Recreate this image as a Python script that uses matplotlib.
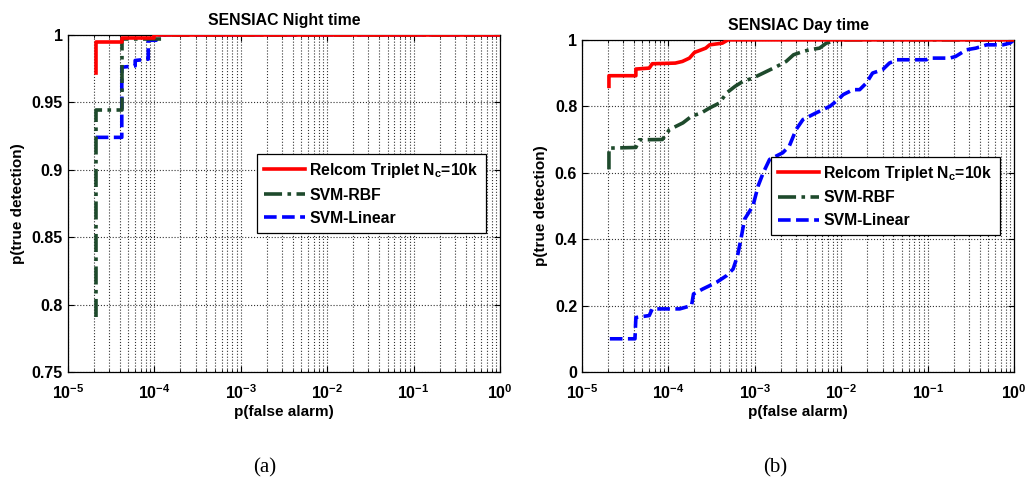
import numpy as np
import matplotlib
matplotlib.use("Agg")
import matplotlib.pyplot as plt

plt.rcParams['font.family'] = ['Liberation Sans', 'DejaVu Sans']
plt.rcParams['font.weight'] = 'bold'
plt.rcParams['mathtext.fontset'] = 'custom'
plt.rcParams['mathtext.rm'] = 'Liberation Sans:bold'
plt.rcParams['mathtext.default'] = 'rm'

legend_labels = ['Relcom Triplet N$_{c}$=10k', 'SVM-RBF', 'SVM-Linear']

# --- (a) night time ROC vertices ---
night_relcom_fa = [2.1e-5, 2.1e-5, 4.2e-5, 4.2e-5, 1.0e-4, 1.0e-4, 1.0]
night_relcom_pd = [0.972, 0.995, 0.995, 0.998, 0.998, 1.0, 1.0]

night_rbf_fa = [2.1e-5, 2.1e-5, 4.2e-5, 4.2e-5, 1.25e-4, 1.25e-4, 1.0]
night_rbf_pd = [0.791, 0.944, 0.944, 0.997, 0.997, 1.0, 1.0]

night_lin_fa = [2.1e-5, 2.1e-5, 4.2e-5, 4.2e-5, 6.0e-5, 6.0e-5, 8.5e-5, 8.5e-5, 1.05e-4, 1.05e-4, 1.0]
night_lin_pd = [0.924, 0.924, 0.924, 0.976, 0.977, 0.981, 0.982, 0.996, 0.996, 1.0, 1.0]

# --- (b) day time ROC vertices ---
day_relcom_fa = [2.05e-5, 2.05e-5, 4.2e-5, 4.2e-5, 6.0e-5, 6.5e-5, 1.2e-4, 1.45e-4,
                 1.75e-4, 2.0e-4, 2.7e-4, 3.0e-4, 4.2e-4, 4.9e-4, 1.0]
day_relcom_pd = [0.86, 0.892, 0.892, 0.912, 0.915, 0.928, 0.93, 0.935,
                 0.945, 0.962, 0.975, 0.985, 0.99, 1.0, 1.0]

day_rbf_fa = [2.05e-5, 2.05e-5, 4.2e-5, 4.6e-5, 8.5e-5, 1.03e-4, 1.47e-4, 1.85e-4,
              2.4e-4, 3.0e-4, 3.9e-4, 4.7e-4, 5.9e-4, 7.3e-4, 9.5e-4, 1.25e-3,
              1.8e-3, 2.3e-3, 2.8e-3, 3.6e-3, 4.3e-3, 5.6e-3, 6.7e-3, 9.2e-3, 1.0]
day_rbf_pd = [0.61, 0.674, 0.676, 0.699, 0.70, 0.73, 0.75, 0.77,
              0.78, 0.795, 0.81, 0.84, 0.86, 0.875, 0.885, 0.90,
              0.92, 0.935, 0.955, 0.965, 0.97, 0.975, 0.99, 1.0, 1.0]

day_lin_fa = [2.1e-5, 4.1e-5, 4.2e-5, 6.0e-5, 6.5e-5, 1.35e-4, 1.85e-4, 1.95e-4,
              2.5e-4, 3.6e-4, 4.7e-4, 5.6e-4, 6.3e-4, 6.9e-4, 7.6e-4, 9.5e-4,
              1.09e-3, 1.25e-3, 1.48e-3, 2.1e-3, 2.5e-3, 3.0e-3, 3.6e-3, 5.1e-3,
              7.4e-3, 9.2e-3, 1.05e-2, 1.37e-2, 1.63e-2, 1.95e-2, 2.3e-2, 3.0e-2,
              3.6e-2, 4.4e-2, 9.6e-2, 1.05e-1, 1.8e-1, 2.1e-1, 2.8e-1, 3.6e-1,
              4.8e-1, 7.4e-1, 0.89, 1.0]
day_lin_pd = [0.10, 0.10, 0.164, 0.17, 0.19, 0.19, 0.20, 0.235,
              0.25, 0.27, 0.29, 0.31, 0.35, 0.40, 0.46, 0.50,
              0.56, 0.60, 0.64, 0.66, 0.68, 0.73, 0.76, 0.78,
              0.80, 0.82, 0.835, 0.85, 0.85, 0.87, 0.90, 0.91,
              0.93, 0.94, 0.94, 0.945, 0.945, 0.95, 0.97, 0.975,
              0.985, 0.985, 0.99, 1.0]

red = '#ff0000'
green = '#1e4a2c'
blue = '#0000ff'

fig = plt.figure(figsize=(10.29, 4.98), dpi=100)
ax1 = fig.add_axes([0.066, 0.253, 0.420, 0.677])
ax2 = fig.add_axes([0.5656, 0.253, 0.420, 0.667])


def draw(ax, rel, rbf, lin, title, ylim, yticks):
    ax.plot(rel[0], rel[1], color=red, lw=2.6, ls='-', label=legend_labels[0], zorder=5)
    ax.plot(rbf[0], rbf[1], color=green, lw=2.6, ls=(0, (5, 1.5, 1, 1.5)), label=legend_labels[1], zorder=4)
    ax.plot(lin[0], lin[1], color=blue, lw=2.6, ls=(0, (3.5, 1.5)), label=legend_labels[2], zorder=3)
    ax.set_xscale('log')
    ax.set_xlim(1e-5, 1)
    ax.set_ylim(*ylim)
    ax.set_yticks(yticks)
    ax.set_yticklabels([('%g' % t) for t in yticks])
    ax.set_xticks([1e-5, 1e-4, 1e-3, 1e-2, 1e-1, 1])
    ax.grid(True, which='major', ls=':', color='#333333', lw=0.8)
    ax.grid(True, which='minor', axis='x', ls=':', color='#333333', lw=0.8)
    ax.tick_params(which='both', direction='in', top=True, right=True, labelsize=11.5)
    ax.tick_params(axis='x', which='major', pad=8)
    ax.tick_params(which='major', length=4)
    ax.tick_params(which='minor', length=2)
    ax.set_xlabel('p(false alarm)', fontsize=11, fontweight='bold', labelpad=2)
    ax.set_ylabel('p(true detection)', fontsize=11, fontweight='bold', labelpad=5)
    ax.set_title(title, fontsize=11.4, fontweight='bold', pad=7)
    leg = ax.legend(loc='center right', bbox_to_anchor=(0.985, 0.53), fancybox=False,
                    framealpha=1, edgecolor='black', fontsize=11.3, handlelength=2.6,
                    borderpad=0.45, labelspacing=0.5, handletextpad=0.3)
    leg.get_frame().set_linewidth(0.9)
    for sp in ax.spines.values():
        sp.set_linewidth(0.9)


draw(ax1, (night_relcom_fa, night_relcom_pd), (night_rbf_fa, night_rbf_pd),
     (night_lin_fa, night_lin_pd), 'SENSIAC Night time', (0.75, 1.0),
     [0.75, 0.8, 0.85, 0.9, 0.95, 1.0])
draw(ax2, (day_relcom_fa, day_relcom_pd), (day_rbf_fa, day_rbf_pd),
     (day_lin_fa, day_lin_pd), 'SENSIAC Day time', (0.0, 1.0),
     [0, 0.2, 0.4, 0.6, 0.8, 1.0])

fig.text(265 / 1029, 1 - 468 / 498, '(a)', family='Liberation Serif', fontweight='normal',
         fontsize=15, ha='center', va='center')
fig.text(775 / 1029, 1 - 468 / 498, '(b)', family='Liberation Serif', fontweight='normal',
         fontsize=15, ha='center', va='center')

fig.savefig('out.png', dpi=100)
